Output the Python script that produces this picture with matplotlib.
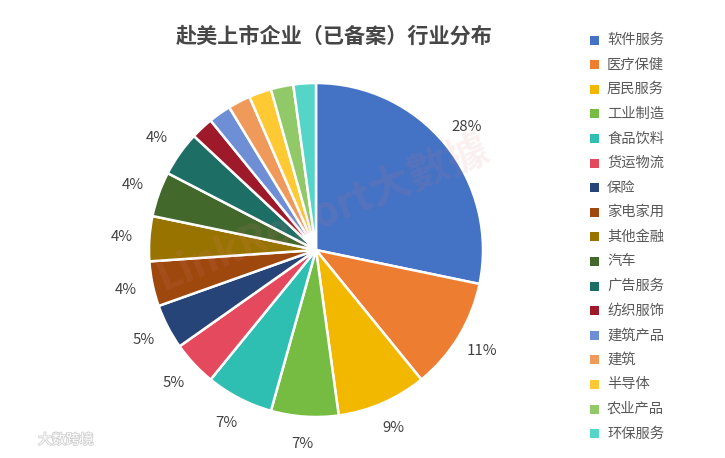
import matplotlib
matplotlib.use("Agg")
import matplotlib.pyplot as plt
from matplotlib.patches import Rectangle
import matplotlib.patheffects as pe
import numpy as np

plt.rcParams['font.family'] = ['Noto Sans CJK SC', 'DejaVu Sans']

title = "赴美上市企业（已备案）行业分布"
categories = ["软件服务", "医疗保健", "居民服务", "工业制造", "食品饮料", "货运物流",
              "保险", "家电家用", "其他金融", "汽车", "广告服务", "纺织服饰",
              "建筑产品", "建筑", "半导体", "农业产品", "环保服务"]
counts = [13, 5, 4, 3, 3, 2, 2, 2, 2, 2, 2, 1, 1, 1, 1, 1, 1]
colors = ["#4472C4", "#ED7D31", "#F2B800", "#76BC43", "#2FBFB2", "#E5495E",
          "#264478", "#9E480E", "#997300", "#43682B", "#1D6F65", "#9E1A2B",
          "#6E8FD5", "#EF9A5B", "#FFC933", "#92C968", "#55D4C8"]
min_label_pct = 3  # slices below this show no label

W, H = 725, 458
fig = plt.figure(figsize=(W / 100, H / 100), dpi=100)
fig.patch.set_facecolor("white")

def fx(px):
    return px / W

def fy(py):
    return 1 - py / H

# largest-remainder rounding of percentages
vals = np.array(counts, dtype=float)
raw = vals / vals.sum() * 100
fl = np.floor(raw).astype(int)
rem = raw - fl
need = 100 - fl.sum()
order = np.argsort(-rem, kind="stable")
pct = fl.copy()
pct[order[:need]] += 1

# pie axes
cx, cy, R = 316, 250, 167
RA = 230
ax = fig.add_axes([fx(cx - RA), fy(cy + RA), 2 * RA / W, 2 * RA / H])
wedges, _ = ax.pie(counts, colors=colors, startangle=90, counterclock=False,
                   radius=1, wedgeprops=dict(edgecolor="white", linewidth=1.8))
lim = RA / R
ax.set_xlim(-lim, lim)
ax.set_ylim(-lim, lim)
ax.set_aspect("equal")
ax.axis("off")

# percent labels
cum = 0.0
tot = vals.sum()
for v, p in zip(counts, pct):
    mid = (cum + v / 2) / tot
    cum += v
    if p < min_label_pct:
        continue
    ang = np.deg2rad(90 - mid * 360)
    r = 1.165
    ax.text(r * np.cos(ang), r * np.sin(ang), f"{p}%", ha="center", va="center",
            fontsize=10.8, color="#404040")

# watermark
fig.text(fx(322), fy(212), "LinkReport大數據", rotation=22, ha="center", va="center",
         fontsize=30, color="#D88080", alpha=0.12, fontweight="bold")
fig.text(fx(38), fy(440), "大数跨境", ha="left", va="center", fontsize=10,
         color="white", path_effects=[pe.withStroke(linewidth=1.2, foreground="#D0D0D0")])

# title
fig.text(fx(334), fy(36), title, ha="center", va="center", fontsize=15.2,
         fontweight="bold", color="#464646")

# legend
y0, dy = 40, 24.6
for i, (c, lab) in enumerate(zip(colors, categories)):
    yy = y0 + i * dy
    fig.add_artist(Rectangle((fx(590), fy(yy + 4.5)), 9 / W, 9 / H, transform=fig.transFigure,
                             facecolor=c, edgecolor="none"))
    fig.text(fx(607), fy(yy), lab, ha="left", va="center", fontsize=10.3, color="#595959")

fig.savefig("out.png", dpi=100, facecolor="white")
